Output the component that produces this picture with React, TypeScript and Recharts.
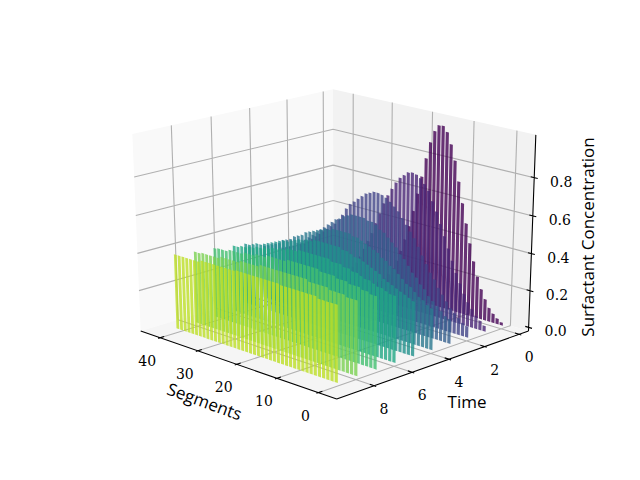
/**
 * Surfactant concentration per segment over time, as ribbons of bars in a 3D box.
 * Recharts has no 3D, so every point is projected to the hidden 0-640 / 0-480 axes.
 */

import { ScatterChart, Scatter, XAxis, YAxis } from 'recharts';

const time0 = [.016, .03, .05, .075, .116, .165, .227, .304, .396, .497, .60, .71, .815, .895, .955, .982, .98, .945, .88, .79, .687, .59, .49, .40, .32, .25, .19, .14, .10, .07, .05, .035, .025, .02, .015, .012, .01, .01, .01, .01, .01, .01, .01];
const time1 = [.03, .05, .07, .10, .13, .17, .22, .27, .33, .39, .45, .51, .57, .62, .67, .70, .725, .74, .745, .74, .72, .70, .67, .63, .59, .54, .48, .42, .36, .31, .26, .21, .17, .14, .11, .09, .07, .06, .05, .04, .04, .04, .04];
const time2 = [.06, .07, .09, .11, .13, .16, .19, .22, .26, .29, .33, .37, .41, .45, .48, .51, .54, .57, .59, .61, .625, .635, .64, .64, .63, .62, .60, .58, .56, .54, .51, .47, .44, .41, .39, .37, .35, .33, .31, .29, .27, .25, .24];
const time3 = [.13, .14, .16, .18, .20, .22, .25, .27, .30, .32, .35, .38, .40, .43, .45, .47, .49, .50, .52, .53, .53, .54, .54, .54, .54, .53, .52, .50, .49, .47, .45, .43, .41, .39, .37, .35, .33, .31, .30, .28, .27, .26, .25];
const time4 = [.22, .23, .25, .26, .28, .30, .31, .33, .35, .37, .38, .40, .41, .43, .44, .45, .46, .47, .48, .48, .49, .49, .49, .49, .49, .48, .48, .47, .46, .45, .44, .43, .41, .40, .39, .37, .36, .35, .33, .32, .31, .30, .29];
const time5 = [.29, .30, .31, .32, .33, .34, .35, .36, .38, .39, .40, .41, .42, .43, .43, .44, .45, .45, .46, .46, .46, .46, .46, .46, .46, .45, .45, .44, .44, .43, .42, .41, .41, .40, .39, .38, .37, .36, .35, .35, .34, .33, .33];
const time6 = [.35, .35, .36, .37, .37, .38, .39, .39, .40, .41, .41, .42, .42, .43, .43, .43, .44, .44, .44, .44, .44, .44, .44, .44, .43, .43, .43, .42, .42, .41, .41, .40, .40, .39, .39, .38, .38, .37, .37, .36, .36];
const time7 = [.38, .38, .39, .39, .40, .40, .40, .41, .41, .41, .42, .42, .42, .42, .43, .43, .43, .43, .43, .43, .43, .43, .42, .42, .42, .42, .42, .41, .41, .41, .40, .40, .40, .39, .39, .39, .39, .38, .38, .38, .375];
const time8 = [.39, .39, .39, .40, .40, .40, .40, .41, .41, .41, .41, .41, .42, .42, .42, .42, .42, .42, .42, .42, .42, .42, .42, .42, .41, .41, .41, .41, .41, .40, .40, .40, .40, .40, .39, .39, .39, .39, .39, .385, .385];
const time9 = [.40, .40, .40, .40, .40, .41, .41, .41, .41, .41, .41, .41, .41, .41, .415, .415, .415, .415, .415, .415, .415, .415, .415, .415, .415, .41, .41, .41, .41, .41, .41, .41, .41, .41, .40, .40, .40, .40, .40, .40, .40];

const ribbons = [time0, time1, time2, time3, time4, time5, time6, time7, time8, time9];
const ribbonColors = ['#440154', '#482475', '#414487', '#355f8d', '#2a788e', '#21918c', '#22a884', '#44bf70', '#7ad151', '#bddf26'];

const segmentTicks = [40, 30, 20, 10, 0];
const timeTicks = [8, 6, 4, 2, 0];
const concentrationTicks = ['0.0', '0.2', '0.4', '0.6', '0.8'];

// box limits in data units
const segMin = -4.3;
const segMax = 45.3;
const timeMin = -0.55;
const timeMax = 9.9;
const zMin = -0.02;
const zMax = 1.02;
const barWidth = 0.76;

// floor corners of the box on screen: back, right, front, left
const [x0, x1, x2, x3] = [333.5, 528.5, 336.7, 140.7];
const [y0, y1, y2, y3] = [273, 331, 399, 331];
const topX = 333;
const topY = 89.3;
const lift = -0.036;

const den = (x1 - x2) * (y3 - y2) - (x3 - x2) * (y1 - y2);
const sx = x0 - x1 + x2 - x3;
const sy = y0 - y1 + y2 - y3;
const pg = (sx * (y3 - y2) - (x3 - x2) * sy) / den;
const ph = ((x1 - x2) * sy - sx * (y1 - y2)) / den;

function project(seg: number, time: number, z: number) {
  const u = (segMax - seg) / (segMax - segMin);
  const v = (time - timeMin) / (timeMax - timeMin);
  const h = (z - zMin) / (zMax - zMin);
  const w = 1 + pg * u + ph * v + lift * h;
  const nx = (x1 - x0 + pg * x1) * u + (x3 - x0 + ph * x3) * v + x0 + (topX * (1 + lift) - x0) * h;
  const ny = (y1 - y0 + pg * y1) * u + (y3 - y0 + ph * y3) * v + y0 + (topY * (1 + lift) - y0) * h;
  return { x: nx / w, y: ny / w };
}

function quadPath(points: Array<{ x: number; y: number }>) {
  let d = '';
  for (let i = 0; i + 3 < points.length; i += 4) {
    const [a, b, c, e] = points.slice(i, i + 4);
    d += `M${a.x} ${a.y}L${b.x} ${b.y}L${c.x} ${c.y}L${e.x} ${e.y}Z`;
  }
  return d;
}

function segmentPath(points: Array<{ x: number; y: number }>) {
  let d = '';
  for (let i = 0; i + 1 < points.length; i += 2) {
    d += `M${points[i].x} ${points[i].y}L${points[i + 1].x} ${points[i + 1].y}`;
  }
  return d;
}

const noDot = () => <g />;

const fillQuads = (fill: string, opacity: number) => (props: any) => (
  <path d={quadPath(props.points)} fill={fill} fillOpacity={opacity} stroke="none" />
);

const strokeLines = (stroke: string, width: number) => (props: any) => (
  <path d={segmentPath(props.points)} fill="none" stroke={stroke} strokeWidth={width} />
);

const quad = (a: any, b: any, c: any, d: any) => [a, b, c, d];

const panes = [
  { fill: '#f9f9f9', pts: quad(project(segMax, timeMin, zMin), project(segMax, timeMax, zMin), project(segMax, timeMax, zMax), project(segMax, timeMin, zMax)) },
  { fill: '#f2f2f2', pts: quad(project(segMax, timeMin, zMin), project(segMin, timeMin, zMin), project(segMin, timeMin, zMax), project(segMax, timeMin, zMax)) },
  { fill: '#f5f5f5', pts: quad(project(segMax, timeMin, zMin), project(segMin, timeMin, zMin), project(segMin, timeMax, zMin), project(segMax, timeMax, zMin)) },
];

const zValues = concentrationTicks.map(Number);

const gridPoints = [
  ...segmentTicks.flatMap((s) => [
    project(s, timeMax, zMin), project(s, timeMin, zMin),
    project(s, timeMin, zMin), project(s, timeMin, zMax),
  ]),
  ...timeTicks.flatMap((t) => [
    project(segMin, t, zMin), project(segMax, t, zMin),
    project(segMax, t, zMin), project(segMax, t, zMax),
  ]),
  ...zValues.slice(1).flatMap((z) => [
    project(segMax, timeMax, z), project(segMax, timeMin, z),
    project(segMax, timeMin, z), project(segMin, timeMin, z),
  ]),
];

const axisPoints = [
  project(segMax, timeMax, zMin), project(segMin, timeMax, zMin),
  project(segMin, timeMax, zMin), project(segMin, timeMin, zMin),
  project(segMin, timeMin, zMin), project(segMin, timeMin, zMax),
  ...segmentTicks.flatMap((s) => [project(s, timeMax - 0.2, zMin), project(s, timeMax + 0.1, zMin)]),
  ...timeTicks.flatMap((t) => [project(segMin - 0.5, t, zMin), project(segMin + 1, t, zMin)]),
  ...zValues.flatMap((z) => [project(segMin + 0.8, timeMin, z), project(segMin - 0.8, timeMin, z)]),
];

function ribbonPoints(values: number[], time: number) {
  return values.flatMap((z, seg) => [
    project(seg - barWidth / 2, time, 0),
    project(seg + barWidth / 2, time, 0),
    project(seg + barWidth / 2, time, z),
    project(seg - barWidth / 2, time, z),
  ]);
}

const tickLabels = [
  ...segmentTicks.map((s) => {
    const p = project(s, timeMax, zMin);
    return { x: p.x - 13, y: p.y + 24, label: String(s) };
  }),
  ...timeTicks.map((t) => {
    const p = project(segMin, t, zMin);
    return { x: p.x + 10, y: p.y + 24, label: String(t) };
  }),
  ...concentrationTicks.map((z) => {
    const p = project(segMin, timeMin, Number(z));
    return { x: p.x + 27, y: p.y + 5, label: z };
  }),
];

const axisLabels = [
  { x: 204, y: 403, label: 'Segments', angle: 20 },
  { x: 467, y: 403, label: 'Time', angle: 0 },
  { x: 589, y: 237, label: 'Surfactant Concentration', angle: -90 },
];

function TickText({ cx, cy, payload }: any) {
  return (
    <text x={cx} y={cy} textAnchor="middle" dominantBaseline="middle" fill="#000" style={{ fontFamily: "'DejaVu Serif'", fontSize: 14 }}>
      {payload.label}
    </text>
  );
}

function AxisText({ cx, cy, payload }: any) {
  return (
    <text
      x={cx}
      y={cy}
      textAnchor="middle"
      dominantBaseline="middle"
      fill="#000"
      style={{ fontFamily: "'Open Sans'", fontSize: 17 }}
      transform={payload.angle ? `rotate(${payload.angle} ${cx} ${cy})` : undefined}
    >
      {payload.label}
    </text>
  );
}

export default function App() {
  return (
    <div style={{ position: 'absolute', left: 0, top: 0, width: 640, height: 480 }}>
      <ScatterChart width={640} height={480} margin={{ top: 0, right: 0, bottom: 0, left: 0 }}>
        <XAxis type="number" dataKey="x" domain={[0, 640]} hide allowDataOverflow />
        <YAxis type="number" dataKey="y" domain={[0, 480]} reversed hide allowDataOverflow />
        {panes.map((pane, i) => (
          <Scatter
            key={`pane-${i}`}
            data={pane.pts}
            shape={noDot}
            line={fillQuads(pane.fill, 1)}
            isAnimationActive={false}
          />
        ))}
        <Scatter data={gridPoints} shape={noDot} line={strokeLines('#b0b0b0', 1.1)} isAnimationActive={false} />
        <Scatter data={axisPoints} shape={noDot} line={strokeLines('#000000', 1.1)} isAnimationActive={false} />
        {ribbons.map((values, t) => (
          <Scatter
            key={`time-${t}`}
            data={ribbonPoints(values, t)}
            shape={noDot}
            line={fillQuads(ribbonColors[t], 0.8)}
            isAnimationActive={false}
          />
        ))}
        <Scatter data={tickLabels} shape={TickText} isAnimationActive={false} />
        <Scatter data={axisLabels} shape={AxisText} isAnimationActive={false} />
      </ScatterChart>
    </div>
  );
}
